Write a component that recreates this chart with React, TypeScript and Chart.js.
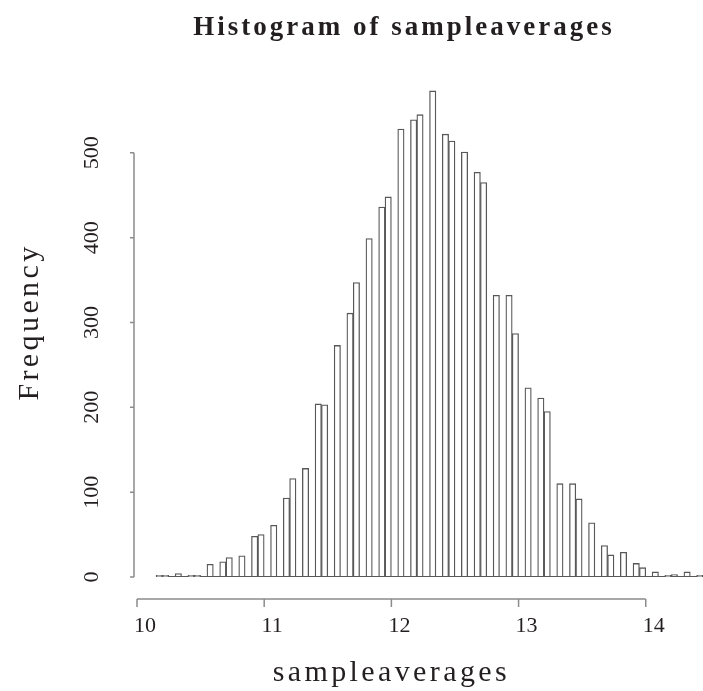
import { useEffect, useRef } from "react";
import { Chart, registerables } from "chart.js";

Chart.register(...registerables);

// Histogram bins (lower edges), bin width 0.05
const binStarts = [
  10.15, 10.2, 10.25, 10.3, 10.35, 10.4, 10.45, 10.5, 10.55, 10.6,
  10.65, 10.7, 10.75, 10.8, 10.85, 10.9, 10.95, 11.0, 11.05, 11.1,
  11.15, 11.2, 11.25, 11.3, 11.35, 11.4, 11.45, 11.5, 11.55, 11.6,
  11.65, 11.7, 11.75, 11.8, 11.85, 11.9, 11.95, 12.0, 12.05, 12.1,
  12.15, 12.2, 12.25, 12.3, 12.35, 12.4, 12.45, 12.5, 12.55, 12.6,
  12.65, 12.7, 12.75, 12.8, 12.85, 12.9, 12.95, 13.0, 13.05, 13.1,
  13.15, 13.2, 13.25, 13.3, 13.35, 13.4, 13.45, 13.5, 13.55, 13.6,
  13.65, 13.7, 13.75, 13.8, 13.85, 13.9, 13.95, 14.0, 14.05, 14.1,
  14.15, 14.2, 14.25, 14.3, 14.35, 14.4,
];
const binWidth = 0.05;

// Frequencies per bin
const counts = [
  2, 2, 0, 4, 0, 2, 2, 0, 15, 0,
  18, 23, 0, 25, 0, 48, 50, 0, 61, 0,
  93, 116, 0, 128, 0, 204, 203, 0, 273, 0,
  311, 347, 0, 399, 0, 436, 448, 0, 528, 0,
  539, 545, 0, 573, 0, 522, 514, 0, 501, 0,
  477, 465, 0, 332, 0, 332, 287, 0, 223, 0,
  211, 195, 0, 110, 0, 110, 92, 0, 64, 0,
  37, 26, 0, 29, 0, 16, 11, 0, 6, 0,
  2, 3, 0, 6, 0, 2,
];

const xTicks = [10, 11, 12, 13, 14];
const yTicks = [0, 100, 200, 300, 400, 500];

const titleText = "Histogram of sampleaverages";
const xLabel = "sampleaverages";
const yLabel = "Frequency";

const SERIF = '"Liberation Serif", "Times New Roman", serif';
const TEXT = "#231f20";
const AXIS = "#8c8c8c";
const EDGE = "#585858";

const rAxesPlugin = {
  id: "rAxes",
  beforeDatasetsDraw(chart: any) {
    const { ctx, scales } = chart;
    const x = scales.x;
    const y = scales.y;
    const y0 = Math.round(y.getPixelForValue(0)) - 0.5;
    ctx.save();
    ctx.strokeStyle = EDGE;
    ctx.lineWidth = 1.2;
    ctx.beginPath();
    ctx.moveTo(x.getPixelForValue(binStarts[0]), y0);
    ctx.lineTo(x.getPixelForValue(binStarts[binStarts.length - 1] + binWidth), y0);
    ctx.stroke();
    ctx.restore();
  },
  afterDraw(chart: any) {
    const { ctx, scales } = chart;
    const x = scales.x;
    const y = scales.y;
    const y0 = y.getPixelForValue(0);
    const axisY = y0 + 22;
    const axisX = x.getPixelForValue(xTicks[0]) - 3;

    ctx.save();
    ctx.strokeStyle = AXIS;
    ctx.lineWidth = 1.5;

    // x axis
    ctx.beginPath();
    ctx.moveTo(x.getPixelForValue(xTicks[0]), axisY);
    ctx.lineTo(x.getPixelForValue(xTicks[xTicks.length - 1]), axisY);
    xTicks.forEach((t) => {
      const px = x.getPixelForValue(t);
      ctx.moveTo(px, axisY);
      ctx.lineTo(px, axisY + 8);
    });
    ctx.stroke();

    // y axis
    ctx.beginPath();
    ctx.moveTo(axisX, y.getPixelForValue(yTicks[0]));
    ctx.lineTo(axisX, y.getPixelForValue(yTicks[yTicks.length - 1]));
    yTicks.forEach((t) => {
      const py = y.getPixelForValue(t);
      ctx.moveTo(axisX, py);
      ctx.lineTo(axisX - 4, py);
    });
    ctx.stroke();

    ctx.fillStyle = TEXT;
    ctx.font = `22px ${SERIF}`;
    ctx.textAlign = "center";
    ctx.textBaseline = "alphabetic";
    xTicks.forEach((t) => {
      ctx.fillText(String(t), x.getPixelForValue(t) + 8, axisY + 33);
    });

    yTicks.forEach((t) => {
      ctx.save();
      ctx.translate(axisX - 36, y.getPixelForValue(t));
      ctx.rotate(-Math.PI / 2);
      ctx.fillText(String(t), 0, 0);
      ctx.restore();
    });

    // Title
    ctx.font = `bold 27px ${SERIF}`;
    (ctx as any).letterSpacing = "3px";
    ctx.fillText(titleText, 404, 35);

    // x label
    ctx.font = `30px ${SERIF}`;
    (ctx as any).letterSpacing = "3.4px";
    const xMid = (x.getPixelForValue(xTicks[0]) + x.getPixelForValue(xTicks[xTicks.length - 1])) / 2;
    ctx.fillText(xLabel, xMid, axisY + 82);

    // y label
    ctx.save();
    ctx.translate(38, 322);
    ctx.rotate(-Math.PI / 2);
    ctx.fillText(yLabel, 0, 0);
    ctx.restore();

    (ctx as any).letterSpacing = "0px";
    ctx.restore();
  },
};

export default function App() {
  const ref = useRef<HTMLCanvasElement>(null);

  useEffect(() => {
    const canvas = ref.current;
    if (!canvas) return;
    const chart = new Chart(canvas, {
      type: "bar",
      data: {
        datasets: [
          {
            data: binStarts.map((s, i) => ({ x: s + binWidth / 2, y: counts[i] })),
            backgroundColor: "#ffffff",
            borderColor: EDGE,
            borderWidth: 1.3,
            borderSkipped: false,
            barPercentage: 1,
            categoryPercentage: 1,
          },
        ],
      },
      options: {
        responsive: false,
        animation: false,
        devicePixelRatio: 1,
        layout: { padding: { left: 137, right: 0, top: 68, bottom: 114 } },
        plugins: {
          legend: { display: false },
          tooltip: { enabled: false },
          title: { display: false },
        },
        scales: {
          x: { type: "linear", min: 10, max: 14.45, offset: false, display: false },
          y: { type: "linear", min: 0, max: 600, display: false },
        },
      },
      plugins: [rAxesPlugin],
    } as any);
    return () => chart.destroy();
  }, []);

  return (
    <div style={{ position: "fixed", left: 0, top: 0, width: 703, height: 691, background: "#fff" }}>
      <canvas ref={ref} width={703} height={691} style={{ display: "block", width: 703, height: 691 }} />
    </div>
  );
}
